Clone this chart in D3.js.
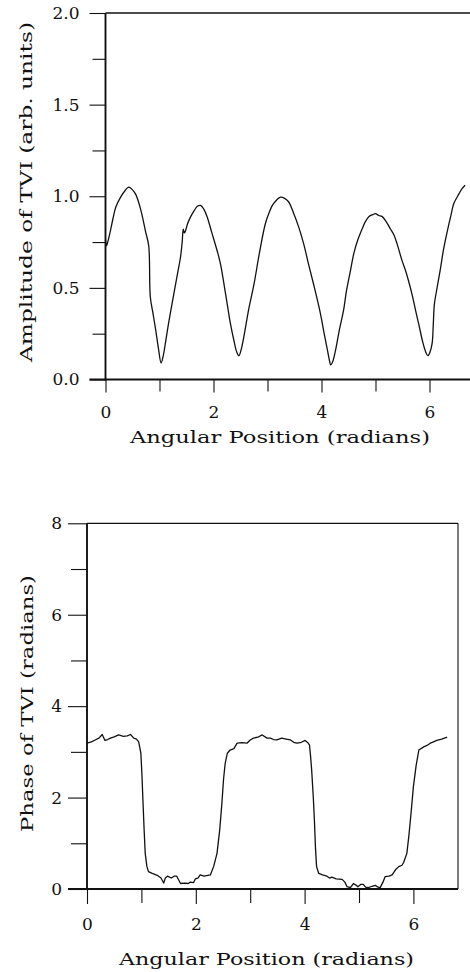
<!DOCTYPE html>
<html>
<head>
<meta charset="utf-8">
<script src="https://cdn.jsdelivr.net/npm/d3@7"></script>
<style>
  html, body { margin: 0; padding: 0; background: #fff; }
  svg { display: block; }
  text { font-family: "DejaVu Serif", "Liberation Serif", serif; fill: #111; }
</style>
</head>
<body>
<svg id="chart" width="470" height="972"></svg>
<script>
// ---------- DATA ----------
const ampX = [0.00,0.02,0.05,0.09,0.14,0.19,0.28,0.36,0.43,0.50,0.56,0.65,0.74,0.80,0.83,0.88,0.93,0.98,1.03,1.07,1.11,1.17,1.23,1.31,1.39,1.42,1.44,1.46,1.48,1.52,1.58,1.64,1.70,1.76,1.82,1.88,1.97,2.07,2.13,2.20,2.25,2.31,2.38,2.43,2.47,2.51,2.56,2.65,2.75,2.85,2.96,3.03,3.09,3.17,3.24,3.31,3.39,3.48,3.58,3.67,3.76,3.87,3.98,4.05,4.11,4.15,4.17,4.21,4.26,4.33,4.41,4.46,4.54,4.60,4.67,4.75,4.81,4.88,4.95,5.00,5.06,5.12,5.20,5.28,5.34,5.40,5.49,5.55,5.61,5.68,5.74,5.81,5.87,5.93,5.97,6.01,6.05,6.07,6.09,6.14,6.20,6.26,6.33,6.40,6.45,6.54,6.60,6.66];
const ampY = [0.76,0.73,0.76,0.81,0.88,0.94,0.995,1.03,1.05,1.035,1.01,0.93,0.81,0.73,0.45,0.36,0.27,0.17,0.09,0.13,0.20,0.31,0.41,0.54,0.67,0.75,0.82,0.80,0.81,0.85,0.89,0.92,0.945,0.95,0.93,0.89,0.80,0.70,0.63,0.51,0.42,0.31,0.21,0.15,0.13,0.16,0.23,0.38,0.52,0.69,0.85,0.91,0.95,0.98,0.995,0.99,0.97,0.91,0.83,0.74,0.63,0.50,0.36,0.25,0.16,0.10,0.08,0.10,0.16,0.27,0.38,0.48,0.60,0.69,0.76,0.82,0.86,0.89,0.90,0.905,0.895,0.89,0.86,0.82,0.79,0.74,0.65,0.60,0.54,0.46,0.38,0.29,0.21,0.15,0.13,0.15,0.20,0.30,0.41,0.50,0.60,0.71,0.81,0.90,0.96,1.01,1.04,1.06];

const phaseX = [0.00,0.08,0.15,0.22,0.28,0.33,0.38,0.43,0.50,0.58,0.67,0.74,0.80,0.86,0.91,0.95,0.99,1.01,1.03,1.05,1.07,1.10,1.13,1.20,1.29,1.36,1.41,1.44,1.48,1.55,1.60,1.65,1.72,1.80,1.86,1.90,1.96,1.99,2.04,2.08,2.15,2.27,2.33,2.39,2.44,2.48,2.51,2.54,2.58,2.63,2.70,2.76,2.85,2.94,3.00,3.06,3.14,3.22,3.31,3.37,3.43,3.49,3.58,3.66,3.74,3.80,3.86,3.94,4.01,4.06,4.09,4.11,4.13,4.16,4.18,4.20,4.22,4.26,4.33,4.41,4.46,4.50,4.58,4.69,4.74,4.78,4.84,4.90,4.95,4.98,5.03,5.08,5.12,5.17,5.24,5.30,5.35,5.39,5.44,5.48,5.55,5.61,5.67,5.73,5.79,5.82,5.88,5.92,5.96,6.00,6.05,6.10,6.19,6.25,6.31,6.37,6.43,6.52,6.62];
const phaseY = [3.19,3.22,3.26,3.30,3.38,3.25,3.27,3.30,3.33,3.37,3.34,3.35,3.38,3.30,3.28,3.22,2.97,2.50,1.88,1.30,0.78,0.50,0.38,0.34,0.30,0.24,0.13,0.24,0.28,0.24,0.28,0.28,0.12,0.13,0.12,0.15,0.14,0.22,0.24,0.31,0.28,0.31,0.50,0.78,1.30,1.88,2.40,2.75,2.97,3.04,3.07,3.19,3.20,3.19,3.26,3.30,3.32,3.37,3.30,3.30,3.27,3.26,3.30,3.28,3.26,3.21,3.19,3.21,3.25,3.20,3.15,2.90,2.60,2.00,1.51,0.90,0.49,0.34,0.31,0.28,0.24,0.26,0.22,0.21,0.15,0.05,0.03,0.12,0.08,0.05,0.10,0.10,0.04,0.03,0.06,0.08,0.04,0.03,0.15,0.27,0.28,0.31,0.42,0.49,0.52,0.58,0.78,1.20,1.70,2.24,2.70,3.04,3.11,3.14,3.19,3.22,3.25,3.28,3.32];

const xDomain = [0, 6.82];
const xMajorTicks = [0, 2, 4, 6];
const xMinorTicks = [1, 3, 5];

const ampDomain = [0, 2];
const ampMajorTicks = [0, 0.5, 1.0, 1.5, 2.0];
const ampMinorTicks = [0.25, 0.75, 1.25, 1.75];

const phaseDomain = [0, 8];
const phaseMajorTicks = [0, 2, 4, 6, 8];
const phaseMinorTicks = [1, 3, 5, 7];

const xTitle = "Angular Position (radians)";
const ampTitle = "Amplitude of TVI (arb. units)";
const phaseTitle = "Phase of TVI (radians)";

// ---------- DRAW ----------
const svg = d3.select("#chart");
const ink = "#111";

function panel(cfg) {
  const x = d3.scaleLinear().domain(xDomain).range(cfg.xRange);
  const y = d3.scaleLinear().domain(cfg.yDomain).range(cfg.yRange);
  const g = svg.append("g");

  // x axis ticks (below)
  const xAx = g.append("g").attr("transform", `translate(0,${y(0)})`)
    .call(d3.axisBottom(x).tickValues(xMajorTicks).tickSize(cfg.xTick).tickPadding(cfg.xPad).tickFormat(d3.format("d")));
  xAx.select(".domain").remove();
  xAx.selectAll("line").attr("stroke", ink).attr("stroke-width", 1.1);
  xAx.selectAll("text").attr("font-size", cfg.fs).attr("font-family", "DejaVu Serif").attr("fill", ink);
  const xMin = g.append("g").attr("transform", `translate(0,${y(0)})`)
    .call(d3.axisBottom(x).tickValues(xMinorTicks).tickSize(cfg.xTick - 1).tickFormat(""));
  xMin.select(".domain").remove();
  xMin.selectAll("line").attr("stroke", ink).attr("stroke-width", 1.1);

  // y axis ticks (left)
  const yAx = g.append("g").attr("transform", `translate(${x(0)},0)`)
    .call(d3.axisLeft(y).tickValues(cfg.yMajor).tickSize(cfg.yTick).tickPadding(cfg.yPad).tickFormat(cfg.yFmt));
  yAx.select(".domain").remove();
  yAx.selectAll("line").attr("stroke", ink).attr("stroke-width", 1.1);
  yAx.selectAll("text").attr("font-size", cfg.fs).attr("font-family", "DejaVu Serif").attr("fill", ink);
  const yMin = g.append("g").attr("transform", `translate(${x(0)},0)`)
    .call(d3.axisLeft(y).tickValues(cfg.yMinor).tickSize(cfg.yTick - 3).tickFormat(""));
  yMin.select(".domain").remove();
  yMin.selectAll("line").attr("stroke", ink).attr("stroke-width", 1.1);

  // frame
  const top = y(cfg.yDomain[1]), bot = y(0), left = x(0), right = x(xDomain[1]);
  g.append("line").attr("x1", left).attr("x2", right).attr("y1", top).attr("y2", top)
    .attr("stroke", ink).attr("stroke-width", 1.3);
  g.append("line").attr("x1", right).attr("x2", right).attr("y1", top).attr("y2", bot)
    .attr("stroke", ink).attr("stroke-width", 1.1);
  g.append("line").attr("x1", left).attr("x2", left).attr("y1", top).attr("y2", bot + 1)
    .attr("stroke", ink).attr("stroke-width", 1.9);
  g.append("line").attr("x1", left - cfg.yTick).attr("x2", right).attr("y1", bot).attr("y2", bot)
    .attr("stroke", ink).attr("stroke-width", 2);

  // curve
  const pts = cfg.xs.map((v, i) => [v, cfg.ys[i]]);
  g.append("path").datum(pts)
    .attr("fill", "none").attr("stroke", ink).attr("stroke-width", 1.3)
    .attr("stroke-linejoin", "round")
    .attr("d", d3.line().x(d => x(d[0])).y(d => y(d[1])).curve(cfg.curve));

  // titles
  g.append("text").attr("x", cfg.xTitlePos[0]).attr("y", cfg.xTitlePos[1])
    .attr("text-anchor", "middle").attr("font-size", cfg.titleFs)
    .attr("textLength", cfg.xTitleLen).attr("lengthAdjust", "spacingAndGlyphs")
    .text(xTitle);
  g.append("text")
    .attr("transform", `translate(${cfg.yTitlePos[0]},${cfg.yTitlePos[1]}) rotate(-90)`)
    .attr("text-anchor", "middle").attr("font-size", cfg.titleFs)
    .attr("textLength", cfg.yTitleLen).attr("lengthAdjust", "spacingAndGlyphs")
    .text(cfg.yTitle);
}

panel({
  xRange: [105.5, 105.5 + 6.82 * 54],
  yDomain: ampDomain, yRange: [379.5, 13],
  yMajor: ampMajorTicks, yMinor: ampMinorTicks, yFmt: d3.format(".1f"),
  xTick: 13, yTick: 16, xPad: 13, yPad: 10, fs: 17, titleFs: 17,
  xs: ampX, ys: ampY, curve: d3.curveCatmullRom.alpha(0.5),
  xTitlePos: [280, 443], xTitleLen: 300,
  yTitlePos: [32, 192], yTitleLen: 340, yTitle: ampTitle
});

panel({
  xRange: [87, 87 + 6.82 * 54.4],
  yDomain: phaseDomain, yRange: [889, 523.3],
  yMajor: phaseMajorTicks, yMinor: phaseMinorTicks, yFmt: d3.format("d"),
  xTick: 15, yTick: 19, xPad: 14, yPad: 6, fs: 17, titleFs: 17,
  xs: phaseX, ys: phaseY, curve: d3.curveLinear,
  xTitlePos: [266.5, 965], xTitleLen: 295,
  yTitlePos: [33, 703.5], yTitleLen: 257, yTitle: phaseTitle
});
</script>
</body>
</html>
